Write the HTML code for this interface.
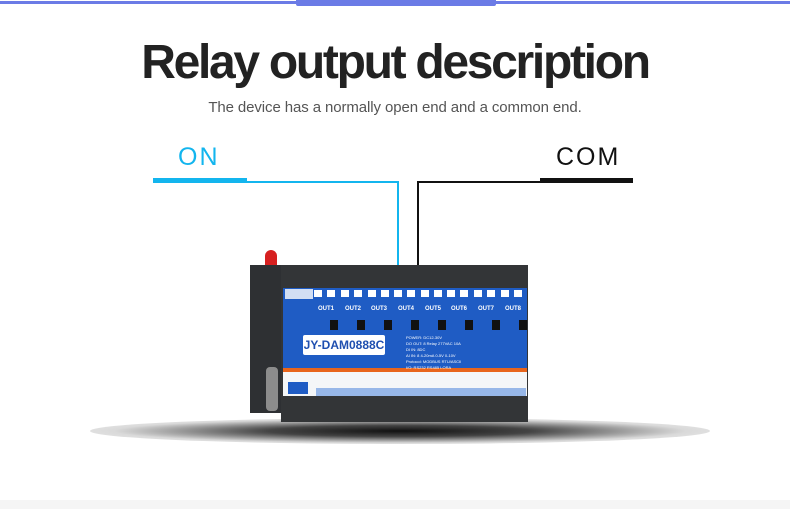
<!DOCTYPE html>
<html><head><meta charset="utf-8"><style>
*{margin:0;padding:0;box-sizing:border-box}
body{width:790px;height:509px;background:#fff;position:relative;overflow:hidden;font-family:"Liberation Sans",sans-serif}
.a{position:absolute}
.o{position:absolute;top:306px;font-size:6px;color:#fff;font-weight:bold;white-space:nowrap}
.n{position:absolute;top:289px;width:10px;height:9px;border:1px solid #1f5cc4;font-size:6px;line-height:7px;text-align:center;color:#1f3f90;background:#fff}
</style></head><body>
<div class="a" style="left:0;top:1px;width:790px;height:3px;background:#6b7be6"></div>
<div class="a" style="left:296px;top:0;width:200px;height:6px;background:#6b7be6;border-radius:0 0 2px 2px"></div>
<div class="a" style="left:0;top:35px;width:790px;text-align:center;font-size:48px;font-weight:bold;color:#222;letter-spacing:-2.3px">Relay output description</div>
<div class="a" style="left:0;top:99px;width:790px;text-align:center;font-size:15px;color:#555;letter-spacing:-0.1px">The device has a normally open end and a common end.</div>
<div class="a" style="left:178px;top:143px;font-size:25px;color:#13b5ee;letter-spacing:2px">ON</div>
<div class="a" style="left:556px;top:143px;font-size:25px;color:#111;letter-spacing:2px">COM</div>
<div class="a" style="left:153px;top:178px;width:94px;height:5px;background:#13b5ee"></div>
<div class="a" style="left:247px;top:181px;width:152px;height:2px;background:#13b5ee"></div>
<div class="a" style="left:397px;top:181px;width:2px;height:90px;background:#13b5ee"></div>
<div class="a" style="left:540px;top:178px;width:93px;height:5px;background:#111"></div>
<div class="a" style="left:417px;top:181px;width:123px;height:2px;background:#111"></div>
<div class="a" style="left:417px;top:181px;width:2px;height:88px;background:#111"></div>
<!-- shadow -->
<div class="a" style="left:90px;top:418px;width:620px;height:26px;border-radius:50%;background:radial-gradient(ellipse at center,#111 0%,#444 30%,rgba(180,180,180,0.5) 65%,rgba(255,255,255,0) 100%)"></div>
<div class="a" style="left:0;top:500px;width:790px;height:9px;background:#f5f5f5"></div>
<!-- device -->
<div class="a" style="left:265px;top:250px;width:12px;height:18px;background:#d62020;border-radius:6px 6px 2px 2px"></div>
<div class="a" style="left:250px;top:265px;width:36px;height:148px;background:#2e3033"></div>
<div class="a" style="left:281px;top:265px;width:247px;height:157px;background:#333537"></div>
<div class="a" style="left:283px;top:288px;width:244px;height:84px;background:#1f5cc4"></div>
<div class="a" style="left:283px;top:368px;width:244px;height:4px;background:#e8651c"></div>
<div class="a" style="left:283px;top:372px;width:244px;height:24px;background:#f4f6f8"></div>
<div class="a" style="left:303px;top:335px;width:82px;height:20px;background:#fff;border-radius:2px;color:#1f4fb0;font-weight:bold;font-size:12px;line-height:20px;text-align:center">JY-DAM0888C</div>
<div class="a" style="left:285px;top:289px;width:28px;height:10px;background:#fff;opacity:.8"></div>
<div class="n" style="left:313px"></div><div class="n" style="left:326px"></div>
<div class="n" style="left:340px"></div><div class="n" style="left:353px"></div>
<div class="n" style="left:367px"></div><div class="n" style="left:380px"></div>
<div class="n" style="left:393px"></div><div class="n" style="left:406px"></div>
<div class="n" style="left:420px"></div><div class="n" style="left:433px"></div>
<div class="n" style="left:446px"></div><div class="n" style="left:459px"></div>
<div class="n" style="left:473px"></div><div class="n" style="left:486px"></div>
<div class="n" style="left:500px"></div><div class="n" style="left:513px"></div>
<span class="o" style="left:318px">OUT1</span><span class="o" style="left:345px">OUT2</span>
<span class="o" style="left:371px">OUT3</span><span class="o" style="left:398px">OUT4</span>
<span class="o" style="left:425px">OUT5</span><span class="o" style="left:451px">OUT6</span>
<span class="o" style="left:478px">OUT7</span><span class="o" style="left:505px">OUT8</span>
<div class="a" style="left:330px;top:320px;width:8px;height:10px;background:#111;box-shadow:27px 0 #111,54px 0 #111,81px 0 #111,108px 0 #111,135px 0 #111,162px 0 #111,189px 0 #111"></div>
<div class="a" style="left:406px;top:335px;font-size:4px;color:#fff;line-height:6px">POWER: DC12-30V<br>DO OUT: 8 Relay 277VAC 10A<br>DI IN: 8DC<br>AI IN: 8 4-20mA 0-5V 0-10V<br>Protocol: MODBUS RTU/ASCII<br>I/O: RS232 RS485 LORA</div>
<div class="a" style="left:288px;top:382px;width:20px;height:12px;background:#1f5cc4"></div>
<div class="a" style="left:316px;top:388px;width:210px;height:8px;background:#3a78d8;opacity:.5"></div>
<div class="a" style="left:266px;top:367px;width:12px;height:44px;background:#8c8c8c;border-radius:4px"></div>
</body></html>
